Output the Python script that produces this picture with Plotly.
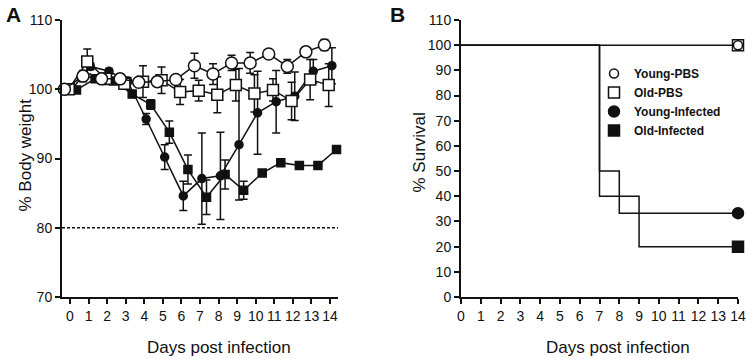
import plotly.graph_objects as go

# ---------------- data: panel A (body weight) ----------------
days = list(range(15))
young_pbs = [100.0, 101.9, 101.5, 101.5, 101.0, 101.1, 101.4, 103.4, 102.2, 103.8, 103.8, 105.1, 103.3, 105.4, 106.4]
young_pbs_err = [0, 0.8, 0.5, 0.3, 0.4, 0.5, 0.5, 1.8, 1.5, 1.1, 1.5, 0.5, 1.0, 0.3, 0.8]
old_pbs = [100.0, 104.0, 101.5, 100.8, 101.1, 101.3, 99.6, 99.8, 99.2, 100.6, 99.4, 99.9, 98.3, 101.4, 100.6]
old_pbs_err = [0, 1.8, 0.8, 0.6, 2.3, 1.9, 1.8, 1.5, 2.6, 2.3, 2.7, 1.6, 2.7, 2.9, 3.1]
young_inf = [100.0, 103.3, 102.6, 101.2, 95.7, 90.2, 84.6, 87.1, 87.5, 92.0, 96.6, 98.2, 99.0, 102.6, 103.4]
young_inf_err_plus = [0, 0.5, 0.4, 0.5, 0.8, 1.8, 2.1, 6.6, 6.3, 11.0, 6.0, 4.5, 3.5, 1.7, 2.6]
young_inf_err_minus = [0, 0.5, 0.4, 0.5, 0.8, 1.8, 2.1, 6.6, 6.3, 8.0, 6.0, 4.5, 3.5, 1.7, 2.6]
old_inf = [99.9, 101.5, 101.2, 99.3, 97.8, 93.8, 88.4, 84.4, 87.7, 85.4, 87.9, 89.4, 89.0, 89.0, 91.3]
old_inf_err = [0, 0.4, 0.4, 0.5, 0.7, 1.6, 2.1, 2.5, 2.1, 1.3, 0, 0, 0, 0, 0]
x_ticks_a = list(range(15))
y_ticks_a = [70, 80, 90, 100, 110]
threshold = 80

# ---------------- data: panel B (survival) ----------------
surv_days_pbs = [0, 14]
surv_pbs = [100, 100]
surv_days_young_inf = [0, 7, 8, 14]
surv_young_inf = [100, 50, 33.3, 33.3]
surv_days_old_inf = [0, 7, 9, 14]
surv_old_inf = [100, 40, 20, 20]
x_ticks_b = list(range(15))
y_ticks_b = list(range(0, 111, 10))

names = ["Young-PBS", "Old-PBS", "Young-Infected", "Old-Infected"]

W, H = 746, 359
FONT = "Liberation Sans, Arial, sans-serif"
BLACK = "#111111"


def px_x(p):
    return p / W


def px_y(p):
    return 1 - p / H


styles = {
    "Young-PBS": dict(symbol="circle", color="white", size=12),
    "Old-PBS": dict(symbol="square", color="white", size=11),
    "Young-Infected": dict(symbol="circle", color=BLACK, size=8),
    "Old-Infected": dict(symbol="square", color=BLACK, size=8),
}
offsets = {"Young-PBS": -0.3, "Old-PBS": -0.07, "Young-Infected": 0.1, "Old-Infected": 0.35}

traces = []


def add_a(name, vals, ep, em):
    st = styles[name]
    traces.append(go.Scatter(
        x=[d + offsets[name] for d in days], y=vals,
        mode="lines+markers",
        line=dict(color=BLACK, width=1.5),
        marker=dict(symbol=st["symbol"], color=st["color"], size=st["size"],
                    line=dict(color=BLACK, width=1.5)),
        error_y=dict(type="data", array=ep, arrayminus=em, symmetric=False,
                     color=BLACK, thickness=1.5, width=4),
        showlegend=False, xaxis="x", yaxis="y", cliponaxis=False,
    ))


add_a("Old-Infected", old_inf, old_inf_err, old_inf_err)
add_a("Young-Infected", young_inf, young_inf_err_plus, young_inf_err_minus)
add_a("Old-PBS", old_pbs, old_pbs_err, old_pbs_err)
add_a("Young-PBS", young_pbs, young_pbs_err, young_pbs_err)

# panel B step lines
for xs, ys in [(surv_days_pbs, surv_pbs), (surv_days_young_inf, surv_young_inf), (surv_days_old_inf, surv_old_inf)]:
    traces.append(go.Scatter(x=xs, y=ys, mode="lines", line=dict(color=BLACK, width=1.5, shape="hv"),
                             showlegend=False, xaxis="x2", yaxis="y2", hoverinfo="skip"))

# panel B end markers (also the legend)
b_series = {
    "Young-PBS": (surv_days_pbs, surv_pbs),
    "Old-PBS": (surv_days_pbs, surv_pbs),
    "Young-Infected": (surv_days_young_inf, surv_young_inf),
    "Old-Infected": (surv_days_old_inf, surv_old_inf),
}
b_size = {"Young-PBS": 9, "Old-PBS": 11, "Young-Infected": 11, "Old-Infected": 11}
draw_order = ["Old-PBS", "Young-PBS", "Young-Infected", "Old-Infected"]
for name in draw_order:
    xs, ys = b_series[name]
    st = styles[name]
    traces.append(go.Scatter(
        x=[xs[-1]], y=[ys[-1]], mode="markers", name=name,
        legendrank=names.index(name) + 1,
        marker=dict(symbol=st["symbol"], color=st["color"], size=b_size[name],
                    line=dict(color=BLACK, width=1.5)),
        xaxis="x2", yaxis="y2", cliponaxis=False, showlegend=True,
    ))

axis_common = dict(
    showline=True, linecolor=BLACK, linewidth=2, ticks="outside", ticklen=5, tickwidth=2,
    tickcolor=BLACK, showgrid=False, zeroline=False, automargin=False,
    tickfont=dict(family=FONT, size=14, color=BLACK),
)

title_font = dict(family=FONT, size=17, color=BLACK)


def label(text, x, y, angle=0):
    return dict(text=text, x=px_x(x), y=px_y(y), xref="paper", yref="paper",
                xanchor="center", yanchor="middle", showarrow=False, textangle=angle,
                font=title_font)


fig = go.Figure(data=traces)
fig.update_layout(
    template="none",
    width=W, height=H, margin=dict(l=0, r=0, t=0, b=0, autoexpand=False),
    paper_bgcolor="white", plot_bgcolor="white",
    xaxis=dict(domain=[px_x(62), px_x(338)], range=[-0.43, 14.43], tickvals=x_ticks_a,
               anchor="y", **axis_common),
    yaxis=dict(domain=[px_y(297), px_y(20)], range=[70, 110], tickvals=y_ticks_a,
               anchor="x", **axis_common),
    xaxis2=dict(domain=[px_x(461), px_x(738)], range=[0, 14], tickvals=x_ticks_b,
                anchor="y2", **axis_common),
    yaxis2=dict(domain=[px_y(297), px_y(20)], range=[0, 110], tickvals=y_ticks_b,
                anchor="x2", **axis_common),
    legend=dict(x=px_x(594), y=px_y(59), xanchor="left", yanchor="top",
                font=dict(family=FONT, size=12, color=BLACK, weight="bold"),
                bgcolor="rgba(0,0,0,0)", borderwidth=0, tracegroupgap=0, itemclick=False),
    shapes=[dict(type="line", xref="x domain", x0=0, x1=1, yref="y", y0=threshold, y1=threshold,
                 line=dict(color=BLACK, width=1.5, dash="3px,2px"))],
    annotations=[
        dict(text="<b>A</b>", x=px_x(4), y=px_y(1), xref="paper", yref="paper", xanchor="left",
             yanchor="top", showarrow=False, font=dict(family=FONT, size=21, color=BLACK)),
        dict(text="<b>B</b>", x=px_x(388), y=px_y(1), xref="paper", yref="paper", xanchor="left",
             yanchor="top", showarrow=False, font=dict(family=FONT, size=21, color=BLACK)),
        label("Days post infection", 219, 347),
        label("Days post infection", 618, 347),
        label("% Body weight", 25.5, 155, -90),
        label("% Survival", 418.5, 153, -90),
    ],
    hovermode=False,
)

fig.write_html("out.html", config={"displayModeBar": False, "staticPlot": True},
               post_script="document.body.style.margin='0';document.body.style.overflow='hidden';")
